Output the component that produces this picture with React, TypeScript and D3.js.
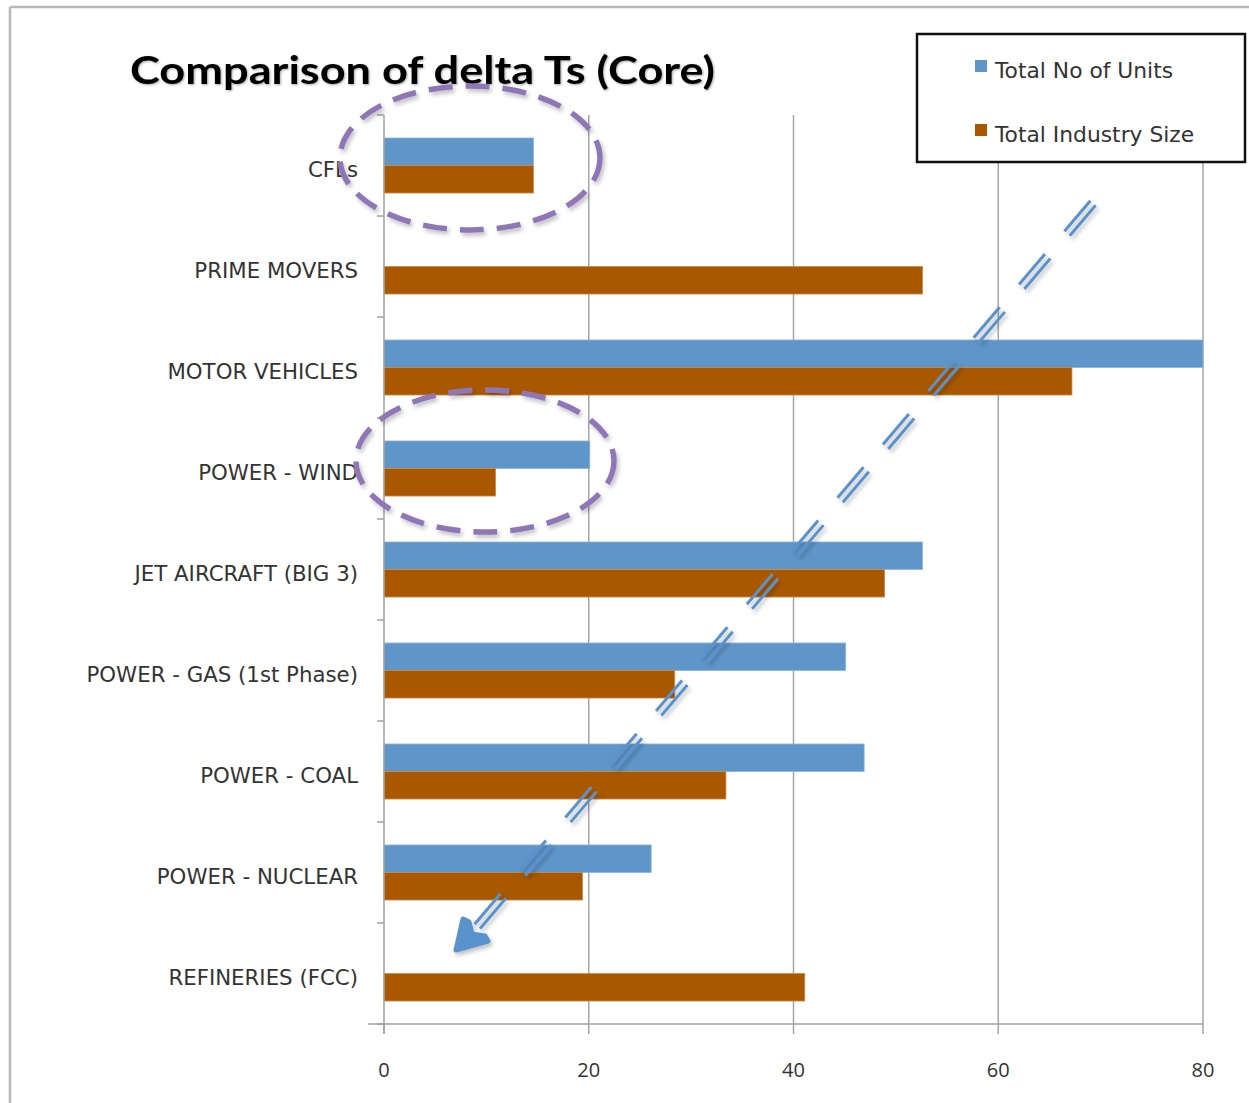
import React from "react";
import * as d3 from "d3";

const categories = [
  "CFLs",
  "PRIME MOVERS",
  "MOTOR VEHICLES",
  "POWER - WIND",
  "JET AIRCRAFT (BIG 3)",
  "POWER - GAS (1st Phase)",
  "POWER - COAL",
  "POWER - NUCLEAR",
  "REFINERIES (FCC)",
];
const seriesNames = ["Total No of Units", "Total Industry Size"];
const unitsValues = [14.6, 0, 80, 20.1, 52.6, 45.1, 46.9, 26.1, 0];
const industryValues = [14.6, 52.6, 67.2, 10.9, 48.9, 28.4, 33.4, 19.4, 41.1];
const xTicks = [0, 20, 40, 60, 80];
const seriesColors = ["#5f96ca", "#a95800"];

const W = 1249;
const H = 1103;
const plot = { left: 384, right: 1203, top: 115, bottom: 1024 };
const labelFont = "'DejaVu Sans', Verdana, sans-serif";

export default function App() {
  const x = d3.scaleLinear().domain([0, 80]).range([plot.left, plot.right]);
  const y = d3
    .scaleBand<string>()
    .domain(categories)
    .range([plot.top, plot.bottom])
    .paddingInner(0.455)
    .paddingOuter(0.2275);
  const inner = d3
    .scaleBand<string>()
    .domain(seriesNames)
    .range([0, y.bandwidth()]);
  const step = y.step();
  const series = [unitsValues, industryValues];

  // dashed double-line arrow across the chart
  const arrowStart: [number, number] = [1093, 203];
  const arrowEnd: [number, number] = [470, 935];
  const dx = arrowEnd[0] - arrowStart[0];
  const dy = arrowEnd[1] - arrowStart[1];
  const len = Math.hypot(dx, dy);
  const ux = dx / len;
  const uy = dy / len;
  const nx = -uy;
  const ny = ux;
  const tip: [number, number] = [456, 950];
  const headPath = d3.path();
  headPath.moveTo(tip[0], tip[1]);
  headPath.lineTo(tip[0] + 7, tip[1] - 31);
  headPath.lineTo(tip[0] + 13, tip[1] - 28);
  headPath.lineTo(tip[0] + 16, tip[1] - 16);
  headPath.lineTo(tip[0] + 29, tip[1] - 14);
  headPath.lineTo(tip[0] + 32, tip[1] - 9);
  headPath.closePath();

  return (
    <svg width={W} height={H} style={{ display: "block", position: "absolute", left: 0, top: 0 }}>
      <defs>
        <filter id="soft" x="-10%" y="-10%" width="120%" height="120%">
          <feDropShadow dx="2" dy="3" stdDeviation="2" floodColor="#000" floodOpacity="0.25" />
        </filter>
      </defs>
      <rect width={W} height={H} fill="#fff" />
      {/* outer frame */}
      <line x1={10} y1={7} x2={W} y2={7} stroke="#b8b8b8" strokeWidth={2.5} />
      <line x1={10} y1={7} x2={10} y2={H} stroke="#b8b8b8" strokeWidth={2.5} />

      {/* vertical gridlines */}
      {xTicks.slice(1).map((t) => (
        <line key={t} x1={x(t)} x2={x(t)} y1={plot.top} y2={plot.bottom + 10} stroke="#a6a6a6" strokeWidth={1.5} />
      ))}

      {/* bars */}
      {categories.map((c, i) =>
        series.map((vals, s) =>
          vals[i] > 0 ? (
            <rect
              key={c + s}
              x={x(0)}
              y={(y(c) as number) + (inner(seriesNames[s]) as number)}
              width={x(vals[i]) - x(0)}
              height={inner.bandwidth()}
              fill={seriesColors[s]}
              stroke={s === 0 ? "#8db5dd" : "#c98a4a"}
              strokeWidth={0.8}
            />
          ) : null
        )
      )}

      {/* category axis */}
      <line x1={plot.left} x2={plot.left} y1={plot.top} y2={plot.bottom + 10} stroke="#a0a0a0" strokeWidth={1.5} />
      {d3.range(categories.length + 1).map((k) => (
        <line key={k} x1={plot.left - 7} x2={plot.left} y1={plot.top + k * step} y2={plot.top + k * step} stroke="#a0a0a0" strokeWidth={1.5} />
      ))}
      {categories.map((c) => (
        <text
          key={c}
          x={358}
          y={(y(c) as number) + y.bandwidth() / 2 + 4}
          dy="0.35em"
          textAnchor="end"
          fontFamily={labelFont}
          fontSize={21.3}
          fill="#333"
        >
          {c}
        </text>
      ))}

      {/* value axis */}
      <line x1={plot.left - 16} x2={plot.right} y1={plot.bottom} y2={plot.bottom} stroke="#a0a0a0" strokeWidth={1.5} />
      <line x1={plot.left} x2={plot.left} y1={plot.bottom} y2={plot.bottom + 10} stroke="#a0a0a0" strokeWidth={1.5} />
      {xTicks.map((t) => (
        <text
          key={t}
          x={x(t)}
          y={1077}
          textAnchor="middle"
          fontFamily="'Open Sans', sans-serif"
          fontSize={20}
          fill="#333"
        >
          {t}
        </text>
      ))}

      {/* title */}
      <text
        x={130}
        y={84}
        fontFamily="Lato, 'Open Sans', sans-serif"
        fontWeight="bold"
        fontSize={39}
        textLength={585}
        lengthAdjust="spacingAndGlyphs"
        fill="#000"
        style={{ filter: "drop-shadow(1px 1px 1px rgba(0,0,0,0.35))" }}
      >
        Comparison of delta Ts (Core)
      </text>

      {/* legend */}
      <rect x={917} y={34} width={328} height={128} fill="#fff" stroke="#111" strokeWidth={2.5} />
      {seriesNames.map((n, i) => (
        <g key={n}>
          <rect x={975} y={60 + i * 64} width={12} height={12} fill={seriesColors[i]} />
          <text
            x={995}
            y={78 + i * 64}
            fontFamily={labelFont}
            fontSize={21.8}
            fill="#333"
          >
            {n}
          </text>
        </g>
      ))}

      {/* highlight ellipses */}
      {[
        [470, 158, 130, 72],
        [485, 461, 129, 71],
      ].map(([cx, cy, rx, ry], i) => (
        <ellipse
          key={i}
          cx={cx}
          cy={cy}
          rx={rx}
          ry={ry}
          fill="none"
          stroke="#8f77b7"
          strokeWidth={5.5}
          strokeDasharray="24 13"
          filter="url(#soft)"
        />
      ))}

      {/* dashed double arrow */}
      <g filter="url(#soft)">
        {[-3.5, 3.5].map((o) => (
          <line
            key={o}
            x1={arrowStart[0] + nx * o}
            y1={arrowStart[1] + ny * o}
            x2={arrowEnd[0] + nx * o}
            y2={arrowEnd[1] + ny * o}
            stroke="#5a92cc"
            strokeWidth={3}
            strokeDasharray="40 30"
          />
        ))}
        <path
          d={headPath.toString()}
          fill="#5a92cc"
          stroke="#5a92cc"
          strokeWidth={5}
          strokeLinejoin="round"
        />
      </g>
    </svg>
  );
}
